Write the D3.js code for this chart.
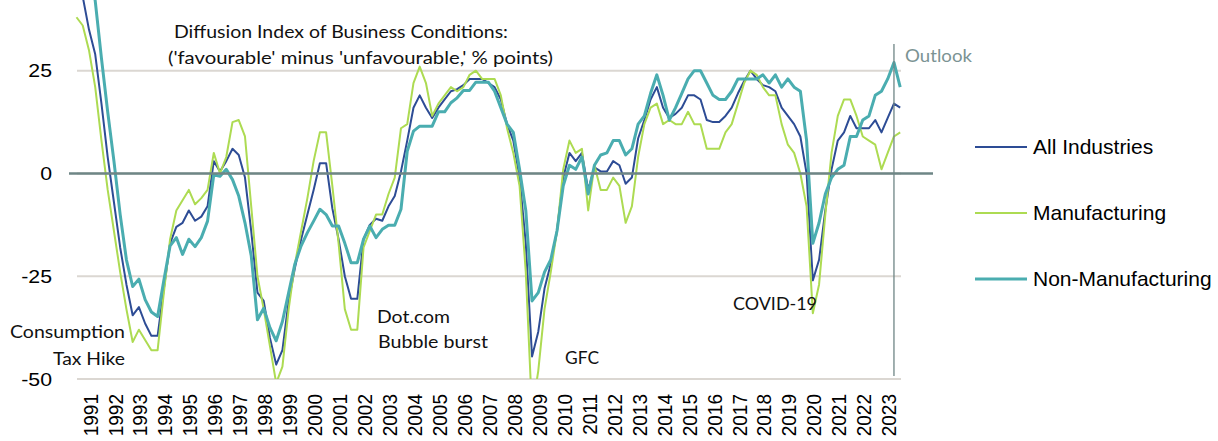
<!DOCTYPE html>
<html>
<head>
<meta charset="utf-8">
<script src="https://cdn.jsdelivr.net/npm/d3@7/dist/d3.min.js"></script>
<style>
  body { margin: 0; background: #fff; }
  svg { display: block; }
  .axis-label { font-family: "Liberation Sans", Arial, sans-serif; fill: #000; }
  .note { font-family: Lato, "Open Sans", sans-serif; font-size: 18px; fill: #111; }
</style>
</head>
<body>
<svg width="1218" height="441"></svg>
<script>
// Tankan business conditions DI, large enterprises, quarterly
// first value = 1990 Q4 ... 2023 Q3, last value = 2023 Q4 outlook
const years = d3.range(1991, 2024);
const yTicks = [25, 0, -25, -50];

const allIndustries = [47,
  43, 35, 29, 17,   4, -7, -18, -27,   -34.5, -32.5, -36.5, -39.5,
  -39.5, -28, -17, -13,   -12, -9, -11.5, -10.5,   -8, 3, 0.5, 3,
  6, 4.5, -1, -14,   -29, -31, -40, -46.5,   -43, -31, -23, -16,
  -10, -4, 2.5, 2.5,   -8.5, -16, -25, -30.5,   -30.5, -16, -12.5, -11,
  -11.5, -8, -5.5, 0.5,   8, 16, 19, 16,   13.5, 16, 18, 20,
  20.5, 21.5, 23, 23,   23, 22, 21, 18,   12, 8, -1, -17,
  -44.5, -38.5, -28, -22,   -14, -1, 5, 3,   5, -4, 1.5, 0.5,
  0.5, 3, 2, -2.5,   -1, 8.5, 13, 18,   21, 16, 13.5, 14.5,
  16, 19, 19, 18,   13, 12.5, 12.5, 14,   16, 19.5, 22.5, 25,
  23, 21.5, 21, 20,   16, 14, 12, 9,   0, -26, -21, -9,
  1, 8, 10, 14,   11, 11, 11, 13,   10, 13.5, 17,
  16];

const manufacturing = [38,
  36, 30, 21, 8,   -4, -14, -24, -33,   -41, -38, -40.5, -43,
  -43, -29, -16, -9,   -6.5, -4, -7.5, -6,   -4, 5, 0, 4,
  12.5, 13, 9, -8,   -25, -33, -42, -51,   -47, -33, -22, -14,
  -6, 3, 10, 10,   -3, -17, -33, -38,   -38, -18, -14, -10,
  -10, -5, -1, 11,   12, 22, 26, 22,   14, 17, 19, 21,
  20, 21, 24, 25,   23, 23, 23, 19,   11, 5, -3, -24,
  -58, -48, -33, -24,   -14, 1, 8, 5,   6, -9, 2, -4,
  -4, -1, -3, -12,   -8, 4, 12, 16,   17, 12, 13, 12,
  12, 15, 12, 12,   6, 6, 6, 10,   12, 17, 22, 25,
  24, 21, 19, 19,   12, 7, 5, 0,   -8, -34, -27, -10,
  5, 14, 18, 18,   14, 9, 8, 7,   1, 5, 9,
  10];

const nonManufacturing = [58,
  55, 50, 42, 28,   15, 3, -10, -21,   -27.5, -25.7, -30.7, -33.7,
  -34.8, -26, -17.6, -15.6,   -19.7, -16, -17.8, -15.6,   -11.6, -0.3, -0.7, 1,
  -1.5, -5.5, -12, -20,   -35.6, -32.8, -37.5, -40.7,   -36, -29, -22, -17.6,
  -14.4, -11.6, -8.7, -10,   -12.8, -12.8, -17, -21.7,   -21.7, -16, -12.8, -15.6,
  -13.6, -12.6, -12.6, -8.7,   5.4, 10.3, 11.5, 11.5,   11.5, 15, 15, 17.2,
  18.4, 20.2, 20.2, 22.2,   22.2, 22.2, 20, 16,   12, 10, 1, -9,
  -31, -29, -24, -21,   -14, -3, 2, 1,   4, -5, 2, 4.5,
  5, 8, 8, 4.5,   6, 12, 14, 19.5,   24, 19, 13, 16,
  19.5, 23, 25, 25,   22, 19, 18, 18,   20, 23, 23, 23,
  23, 24, 22, 24,   21, 23, 21, 20,   8, -17, -12, -5,
  -1, 1, 2, 9,   9, 13, 14, 19,   20, 23, 27,
  21];

const seriesNames = ["All Industries", "Manufacturing", "Non-Manufacturing"];
const seriesValues = [allIndustries, manufacturing, nonManufacturing];
const seriesColors = ["#2d4c95", "#addb52", "#4aadb0"];
const seriesWidths = [2, 2, 3];

const svg = d3.select("svg");

const x = d3.scaleLinear()
  .domain([0, allIndustries.length - 1])
  .range([76.5, 900.2]);
const y = d3.scaleLinear()
  .domain([-50, 25])
  .range([379, 70.7]);

// gridlines
svg.append("g")
  .selectAll("line")
  .data(yTicks)
  .enter().append("line")
    .attr("x1", 77)
    .attr("x2", 901)
    .attr("y1", d => y(d))
    .attr("y2", d => y(d))
    .attr("stroke", "#dbd7d2")
    .attr("stroke-width", 2);

// y tick labels (source picture is a little stretched sideways)
svg.append("g")
  .selectAll("text")
  .data(yTicks)
  .enter().append("text")
    .attr("class", "axis-label")
    .attr("font-size", 19)
    .attr("dy", "0.35em")
    .attr("text-anchor", "end")
    .attr("transform", d => `translate(52,${y(d)}) scale(1.12,1)`)
    .text(d => d);

// year labels, rotated
svg.append("g")
  .selectAll("text")
  .data(years)
  .enter().append("text")
    .attr("class", "axis-label")
    .attr("font-size", 19)
    .attr("text-anchor", "end")
    .attr("dy", "0.35em")
    .attr("transform", d => `translate(${x((d - 1991) * 4 + 2.2)},394) rotate(-90) scale(1,1.1)`)
    .text(d => d);

svg.append("clipPath")
  .attr("id", "plot-clip")
  .append("rect")
    .attr("x", 0)
    .attr("y", -20)
    .attr("width", 1218)
    .attr("height", y(-50) + 20);

let line = d3.line()
  .x((d, i) => x(i))
  .y(d => y(d));

svg.append("g")
  .attr("clip-path", "url(#plot-clip)")
  .selectAll("path")
  .data(seriesValues)
  .enter().append("path")
    .attr("fill", "none")
    .attr("stroke", (d, i) => seriesColors[i])
    .attr("stroke-width", (d, i) => seriesWidths[i])
    .attr("stroke-linejoin", "round")
    .attr("d", line);

// zero axis line
svg.append("line")
  .attr("x1", 69)
  .attr("x2", 933)
  .attr("y1", y(0))
  .attr("y2", y(0))
  .attr("stroke", "#6e8686")
  .attr("stroke-width", 2.5);

// outlook divider (last actual quarter)
let lastActual = allIndustries.length - 2;
svg.append("line")
  .attr("x1", x(lastActual))
  .attr("x2", x(lastActual))
  .attr("y1", 44)
  .attr("y2", 376)
  .attr("stroke", "#6e8686")
  .attr("stroke-width", 1.3);

// text notes
const notes = [
  {text: "Diffusion Index of Business Conditions:", x: 174, y: 38, w: 334},
  {text: "('favourable' minus 'unfavourable,' % points)", x: 168, y: 64, w: 385},
  {text: "Consumption", x: 10, y: 338, w: 115},
  {text: "Tax Hike", x: 53, y: 365, w: 72},
  {text: "Dot.com", x: 377, y: 323, w: 73},
  {text: "Bubble burst", x: 378, y: 348, w: 110},
  {text: "GFC", x: 565, y: 364, w: 34},
  {text: "COVID-19", x: 733, y: 310, w: 84},
  {text: "Outlook", x: 905, y: 62, w: 67, color: "#7b9393"}
];

svg.append("g")
  .selectAll("text")
  .data(notes)
  .enter().append("text")
    .attr("class", "note")
    .attr("x", d => d.x)
    .attr("y", d => d.y)
    .attr("textLength", d => d.w)
    .attr("lengthAdjust", "spacingAndGlyphs")
    .style("fill", d => d.color || "#111")
    .text(d => d.text);

// legend
let legend = svg.append("g")
  .selectAll("g")
  .data(seriesNames)
  .enter().append("g")
    .attr("transform", (d, i) => `translate(975,${147 + i * 66})`);

legend.append("line")
  .attr("x1", 0)
  .attr("x2", 52)
  .attr("stroke", (d, i) => seriesColors[i])
  .attr("stroke-width", (d, i) => seriesWidths[i]);

legend.append("text")
  .attr("class", "axis-label")
  .attr("x", 58)
  .attr("dy", "0.35em")
  .attr("font-size", 21)
  .text(d => d);
</script>
</body>
</html>
